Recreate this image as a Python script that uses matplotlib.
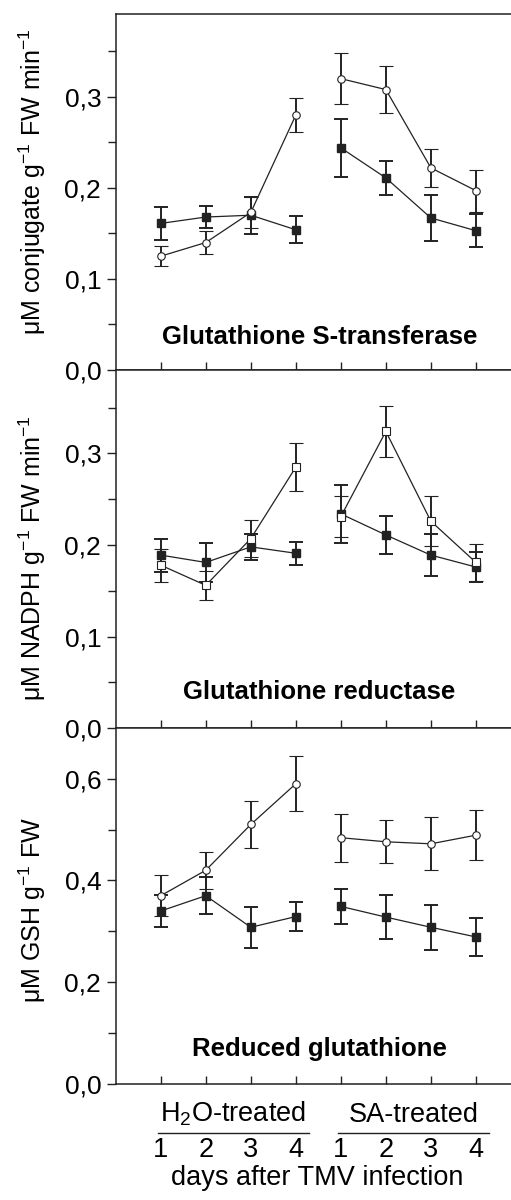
import numpy as np
import matplotlib
matplotlib.use("Agg")
from matplotlib import pyplot as plt
from matplotlib import transforms
from matplotlib.ticker import FuncFormatter, MultipleLocator

plt.rcParams["font.family"] = ["Liberation Sans", "DejaVu Sans"]
plt.rcParams["font.size"] = 19
plt.rcParams["mathtext.fontset"] = "custom"
plt.rcParams["mathtext.rm"] = "Liberation Sans"
plt.rcParams["mathtext.it"] = "Liberation Sans"
plt.rcParams["mathtext.bf"] = "Liberation Sans:bold"

days = [1, 2, 3, 4]
groups = ["H$_2$O-treated", "SA-treated"]

# glutathione S-transferase
gst_tmv_h2o = [0.125, 0.140, 0.173, 0.280]
gst_tmv_h2o_err = [0.011, 0.013, 0.017, 0.019]
gst_tmv_sa = [0.320, 0.308, 0.222, 0.197]
gst_tmv_sa_err = [0.028, 0.026, 0.021, 0.023]
gst_ctrl_h2o = [0.161, 0.168, 0.170, 0.154]
gst_ctrl_h2o_err = [0.018, 0.0125, 0.0205, 0.015]
gst_ctrl_sa = [0.244, 0.211, 0.167, 0.153]
gst_ctrl_sa_err = [0.032, 0.019, 0.025, 0.018]

# glutathione reductase
gr_tmv_h2o = [0.178, 0.156, 0.207, 0.285]
gr_tmv_h2o_err = [0.018, 0.016, 0.020, 0.026]
gr_tmv_sa = [0.231, 0.324, 0.226, 0.181]
gr_tmv_sa_err = [0.022, 0.028, 0.027, 0.020]
gr_ctrl_h2o = [0.189, 0.181, 0.198, 0.191]
gr_ctrl_h2o_err = [0.018, 0.021, 0.014, 0.0125]
gr_ctrl_sa = [0.234, 0.211, 0.189, 0.176]
gr_ctrl_sa_err = [0.032, 0.021, 0.023, 0.016]

# reduced glutathione
gsh_tmv_h2o = [0.370, 0.420, 0.510, 0.590]
gsh_tmv_h2o_err = [0.040, 0.036, 0.047, 0.054]
gsh_tmv_sa = [0.484, 0.476, 0.472, 0.489]
gsh_tmv_sa_err = [0.047, 0.042, 0.052, 0.049]
gsh_ctrl_h2o = [0.340, 0.370, 0.308, 0.329]
gsh_ctrl_h2o_err = [0.032, 0.036, 0.040, 0.028]
gsh_ctrl_sa = [0.349, 0.328, 0.308, 0.289]
gsh_ctrl_sa_err = [0.034, 0.043, 0.0445, 0.038]

panels = [
    dict(title="Glutathione S-transferase",
         ylabel="\u03bcM conjugate g$^{-1}$ FW min$^{-1}$",
         tmv=(gst_tmv_h2o, gst_tmv_h2o_err, gst_tmv_sa, gst_tmv_sa_err),
         ctrl=(gst_ctrl_h2o, gst_ctrl_h2o_err, gst_ctrl_sa, gst_ctrl_sa_err),
         open_marker="o", ymax=0.391, major=0.1, ylab_y=0.53, title_y=0.093),
    dict(title="Glutathione reductase",
         ylabel="\u03bcM NADPH g$^{-1}$ FW min$^{-1}$",
         tmv=(gr_tmv_h2o, gr_tmv_h2o_err, gr_tmv_sa, gr_tmv_sa_err),
         ctrl=(gr_ctrl_h2o, gr_ctrl_h2o_err, gr_ctrl_sa, gr_ctrl_sa_err),
         open_marker="s", ymax=0.391, major=0.1, ylab_y=0.475, title_y=0.10),
    dict(title="Reduced glutathione",
         ylabel="\u03bcM GSH g$^{-1}$ FW",
         tmv=(gsh_tmv_h2o, gsh_tmv_h2o_err, gsh_tmv_sa, gsh_tmv_sa_err),
         ctrl=(gsh_ctrl_h2o, gsh_ctrl_h2o_err, gsh_ctrl_sa, gsh_ctrl_sa_err),
         open_marker="o", ymax=0.699, major=0.2, ylab_y=0.489, title_y=0.098),
]

ink = "#222222"
x_h2o = np.array(days)
x_sa = np.array(days) + len(days)

fig = plt.figure(figsize=(5.11, 12), dpi=100)
left, width = 0.2265, 0.7735
tops = [0.98833, 0.69167, 0.39308]
bottoms = [0.69167, 0.39308, 0.09667]

comma = FuncFormatter(lambda v, p: f"{v:.1f}".replace(".", ","))

for i, p in enumerate(panels):
    ax = fig.add_axes([left, bottoms[i], width, tops[i] - bottoms[i]])
    h2o, h2o_e, sa, sa_e = p["ctrl"]
    for xs, ys, es in [(x_h2o, h2o, h2o_e), (x_sa, sa, sa_e)]:
        ax.errorbar(xs, ys, yerr=es, color=ink, lw=0.9, marker="s", ms=5.2,
                    mfc=ink, mec=ink, ecolor=ink, elinewidth=1.4,
                    capsize=4.8, capthick=1.4, zorder=3)
    h2o, h2o_e, sa, sa_e = p["tmv"]
    for xs, ys, es in [(x_h2o, h2o, h2o_e), (x_sa, sa, sa_e)]:
        ax.errorbar(xs, ys, yerr=es, color=ink, lw=0.9, marker=p["open_marker"],
                    ms=5.4, mfc="white", mec=ink, mew=0.8, ecolor=ink,
                    elinewidth=1.4, capsize=4.8, capthick=1.4, zorder=4)

    ax.set_xlim(0, 8.78)
    ax.set_ylim(0, p["ymax"])
    ax.yaxis.set_major_locator(MultipleLocator(p["major"]))
    ax.yaxis.set_minor_locator(MultipleLocator(p["major"] / 2))
    ax.yaxis.set_major_formatter(comma)
    ax.tick_params(axis="y", which="major", direction="out", length=6.5,
                   width=1.0, color=ink, pad=4)
    ax.tick_params(axis="y", which="minor", direction="out", length=5.5,
                   width=1.0, color=ink)
    ax.set_xticks(np.concatenate([x_h2o, x_sa]),
                  [str(d) for d in days] * 2)
    ax.tick_params(axis="x", direction="in", length=5.5, width=1.0,
                   color=ink, pad=38.5, labelsize=19.5, labelbottom=(i == 2))
    for side in ["left", "top", "bottom"]:
        ax.spines[side].set_linewidth(1.1)
        ax.spines[side].set_color(ink)
    ax.spines["right"].set_visible(False)

    ax.set_ylabel(p["ylabel"], fontsize=18)
    ax.yaxis.set_label_coords(-0.172, p["ylab_y"])
    ax.text(0.515, p["title_y"], p["title"], transform=ax.transAxes,
            ha="center", va="center", fontweight="bold", fontsize=18.5)

    if i == 2:
        blend = transforms.blended_transform_factory(ax.transData, ax.transAxes)
        for xs, name in [(x_h2o, groups[0]), (x_sa, groups[1])]:
            x0, x1 = xs[0] - 0.07, xs[-1] + 0.3
            ax.plot([x0, x1], [-0.1385, -0.1385], color=ink, lw=1.0,
                    transform=blend, clip_on=False)
            ax.text((x0 + x1) / 2, -0.106, name, transform=blend,
                    ha="center", va="baseline", fontsize=19.5)
        ax.set_xlabel("days after TMV infection", fontsize=19.5)
        ax.xaxis.set_label_coords(0.51, -0.2285)

fig.savefig("out.png", dpi=100)
